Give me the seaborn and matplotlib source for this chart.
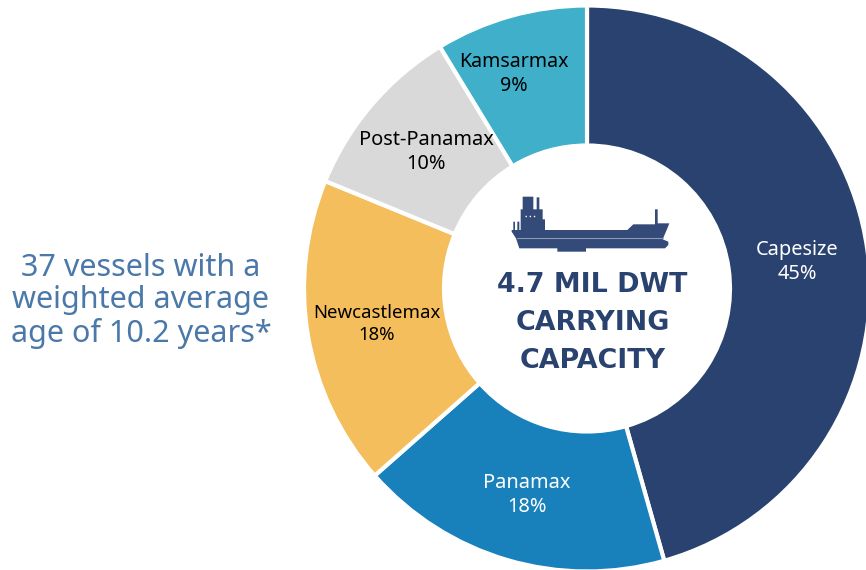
import matplotlib
matplotlib.use('Agg')
import matplotlib.pyplot as plt
import seaborn as sns
from matplotlib.patches import Polygon

# Wedge shares, the printed labels are rounded separately
classes = ['Capesize', 'Panamax', 'Newcastlemax', 'Post-Panamax', 'Kamsarmax']
shares = [45.6, 17.9, 17.7, 10.1, 8.7]
share_labels = ['45%', '18%', '18%', '10%', '9%']
colors = ['#2A426F', '#1880BA', '#F4BE5C', '#D9D9D9', '#40AFC9']
label_colors = ['white', 'white', 'black', 'black', 'black']

sns.set_theme(style='white')
plt.rcParams['font.family'] = ['Noto Sans', 'DejaVu Sans']

W, H = 866, 570
fig = plt.figure(figsize=(W / 100, H / 100), dpi=100)
ax = fig.add_axes([0, 0, 1, 1])


def py(y):
    # picture pixels count from the top
    return H - y


wedges, _ = ax.pie(shares, colors=colors, startangle=90, counterclock=False,
                   center=(587, py(288.5)), radius=283, frame=False,
                   wedgeprops=dict(width=140, edgecolor='white', linewidth=3))
ax.set_xlim(0, W)
ax.set_ylim(0, H)
ax.set_aspect('equal')
ax.axis('off')

# segment labels
label_pos = [(797, 262), (527, 495), (377, 324), (426, 152), (514, 74)]
label_sizes = [14.4, 14.4, 13.4, 14.4, 14.1]
for name, pct, col, (x, y), size in zip(classes, share_labels, label_colors, label_pos, label_sizes):
    ax.text(x, py(y), name + '\n' + pct, color=col, fontsize=size, ha='center', va='center',
            linespacing=1.28)

# centre text
ax.text(592.5, py(323), '4.7 MIL DWT\nCARRYING\nCAPACITY', color='#2A426F', fontsize=19.4,
        fontweight='bold', family='DejaVu Sans', ha='center', va='center', linespacing=1.6)

# left note
ax.text(141, py(301), '37 vessels with a\nweighted average\nage of 10.2 years*', color='#4A78A8',
        fontsize=22, ha='center', va='center', linespacing=1.12)

# ship icon, outline taken from the zoomed crop
ship = [(95, 150), (100, 150), (100, 125), (105, 125), (105, 150), (112, 150), (112, 125), (118, 125),
        (118, 150), (122, 150), (122, 88), (128, 88), (128, 50), (160, 50), (160, 88), (170, 88),
        (170, 52), (178, 52), (178, 88), (188, 88), (188, 118), (195, 118), (195, 150), (442, 150),
        (460, 133), (525, 133), (525, 88), (533, 88), (533, 130), (568, 130), (560, 150), (548, 178),
        (565, 185), (565, 195), (555, 205), (318, 205), (318, 215), (232, 215), (232, 205), (118, 205),
        (108, 175), (95, 155)]


def to_px(pts):
    return [(480 + x / 3, py(180 + y / 3)) for x, y in pts]


ax.add_patch(Polygon(to_px(ship), closed=True, facecolor='#344A78', edgecolor='none', zorder=3))
ax.plot(*zip(*to_px([(110, 175), (550, 175)])), color='#8A99B5', lw=0.8, zorder=4)
ax.plot(*zip(*to_px([(135, 108), (165, 108)])), color='white', lw=1, ls=(0, (1, 2)), zorder=4)

fig.savefig('out.png', dpi=100)
plt.close(fig)
